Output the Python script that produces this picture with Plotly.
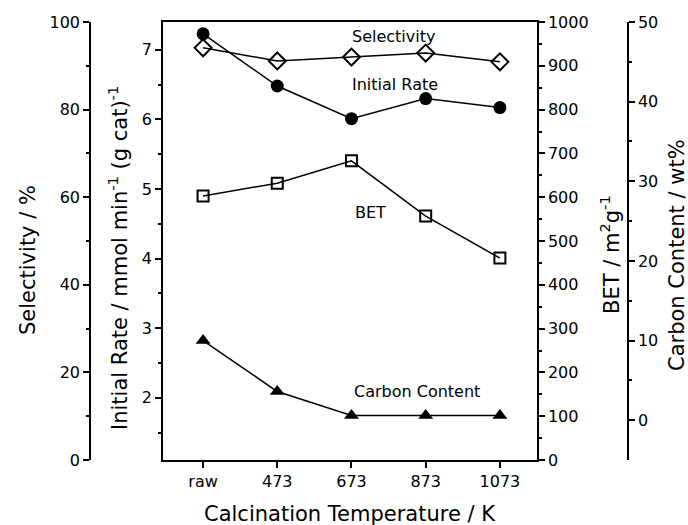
import plotly.graph_objects as go

categories = ["raw", "473", "673", "873", "1073"]
selectivity = [94.1, 91.1, 92.0, 92.9, 90.9]
initial_rate = [7.23, 6.48, 6.01, 6.30, 6.17]
bet = [603, 632, 683, 557, 461]
carbon = [10.0, 3.6, 0.6, 0.6, 0.6]

FONT = "DejaVu Sans, Liberation Sans, Arial, sans-serif"
W, H = 688, 525
ML, MR, MT, MB = 20, 20, 22, 65
PW = W - ML - MR
PH = H - MT - MB
def px(x):
    return (x - ML) / PW
def py(y):
    return (H - MB - y) / PH

line = dict(color="black", width=1.5)
fig = go.Figure()
fig.add_trace(go.Scatter(x=categories, y=selectivity, yaxis="y3", mode="lines+markers",
                         line=line, marker=dict(symbol="diamond-open", size=13, color="black",
                                                line=dict(width=2, color="black")), name="Selectivity"))
fig.add_trace(go.Scatter(x=categories, y=initial_rate, yaxis="y", mode="lines+markers",
                         line=line, marker=dict(symbol="circle", size=13, color="black"), name="Initial Rate"))
fig.add_trace(go.Scatter(x=categories, y=bet, yaxis="y2", mode="lines+markers",
                         line=line, marker=dict(symbol="square-open", size=11, color="black",
                                                line=dict(width=2, color="black")), name="BET"))
fig.add_trace(go.Scatter(x=categories, y=carbon, yaxis="y4", mode="lines+markers",
                         line=line, marker=dict(symbol="triangle-up", size=13, color="black"), name="Carbon Content"))

tickfont = dict(family=FONT, size=16, color="black")
titlefont = dict(family=FONT, size=21, color="black")
common = dict(showgrid=False, zeroline=False, showline=True, linecolor="black", linewidth=1.5,
              ticks="outside", tickcolor="black", tickwidth=1.5, ticklen=6, tickfont=tickfont,
              automargin=False)
minor = dict(ticks="outside", ticklen=3, tickcolor="black", tickwidth=1.5, showgrid=False)

fig.update_layout(
    width=W, height=H, margin=dict(l=ML, r=MR, t=MT, b=MB),
    paper_bgcolor="white", plot_bgcolor="white", showlegend=False,
    xaxis=dict(type="category", domain=[px(163), px(537)], range=[-0.54, 4.5],
               mirror=True, **common),
    yaxis=dict(range=[1.105, 7.4], tickvals=[2, 3, 4, 5, 6, 7], mirror=True,
               minor=dict(dtick=0.5, **minor), anchor="x", **common),
    yaxis2=dict(range=[0, 1000], dtick=100, overlaying="y", side="right", anchor="x",
                minor=dict(dtick=50, **minor), **common),
    yaxis3=dict(range=[0, 100], dtick=20, overlaying="y", side="left", anchor="free", position=px(90),
                minor=dict(dtick=10, **minor), **common),
    yaxis4=dict(range=[-5, 50], tickvals=[0, 10, 20, 30, 40, 50], overlaying="y", side="right",
                anchor="free", position=px(628),
                minor=dict(tickvals=[5, 15, 25, 35, 45], **minor), **common),
)

center = dict(xref="paper", yref="paper", xanchor="center", yanchor="middle", showarrow=False, font=titlefont)
# axis titles
fig.add_annotation(text="Calcination Temperature / K", x=px(350), y=py(514), **center)
fig.add_annotation(text="Selectivity / %", x=px(28), y=py(260), textangle=-90, **center)
fig.add_annotation(text="Initial Rate / mmol min<sup>-1</sup> (g cat)<sup>-1</sup>", x=px(118), y=py(258),
                   textangle=-90, **center)
fig.add_annotation(text="BET / m<sup>2</sup>g<sup>-1</sup>", x=px(610), y=py(255), textangle=-90, **center)
fig.add_annotation(text="Carbon Content / wt%", x=px(677), y=py(255), textangle=-90, **center)

# series labels
annfont = dict(family=FONT, size=16, color="black")
fig.add_annotation(text="Selectivity", x=2.56, y=96.6, xref="x", yref="y3", showarrow=False, font=annfont)
fig.add_annotation(text="Initial Rate", x=2.59, y=6.5, xref="x", yref="y", showarrow=False, font=annfont)
fig.add_annotation(text="BET", x=2.25, y=4.66, xref="x", yref="y", showarrow=False, font=annfont)
fig.add_annotation(text="Carbon Content", x=2.88, y=3.6, xref="x", yref="y4", showarrow=False, font=annfont)

fig.write_html("out.html")
